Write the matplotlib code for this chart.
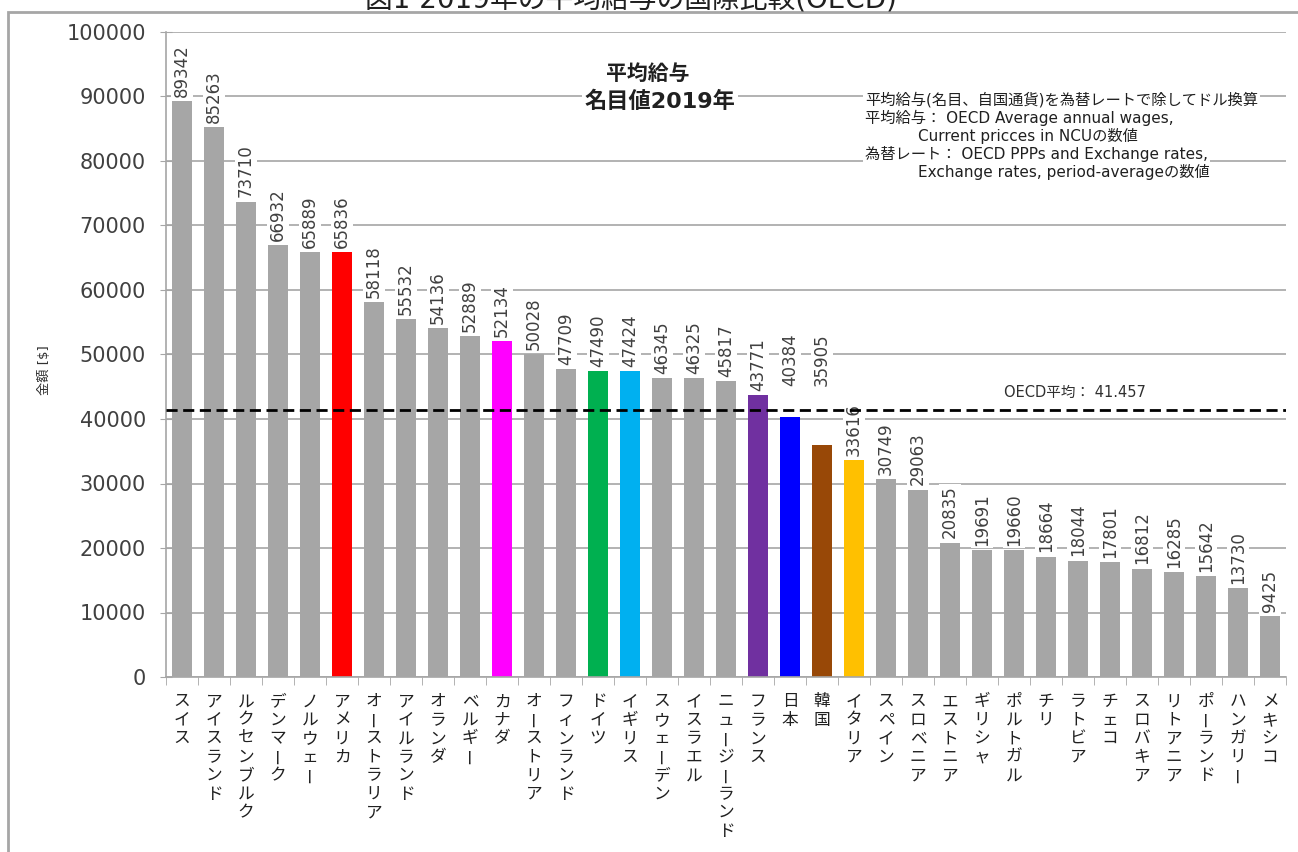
import numpy as np
import matplotlib.pyplot as plt
from matplotlib.patches import Rectangle

# OECD 平均給与 2019年 (名目値, ドル換算)
countries = ['スイス', 'アイスランド', 'ルクセンブルク', 'デンマーク', 'ノルウェー', 'アメリカ',
             'オーストラリア', 'アイルランド', 'オランダ', 'ベルギー', 'カナダ', 'オーストリア',
             'フィンランド', 'ドイツ', 'イギリス', 'スウェーデン', 'イスラエル', 'ニュージーランド',
             'フランス', '日本', '韓国', 'イタリア', 'スペイン', 'スロベニア', 'エストニア',
             'ギリシャ', 'ポルトガル', 'チリ', 'ラトビア', 'チェコ', 'スロバキア', 'リトアニア',
             'ポーランド', 'ハンガリー', 'メキシコ']
wages = [89342, 85263, 73710, 66932, 65889, 65836, 58118, 55532, 54136, 52889, 52134, 50028,
         47709, 47490, 47424, 46345, 46325, 45817, 43771, 40384, 35905, 33616, 30749, 29063,
         20835, 19691, 19660, 18664, 18044, 17801, 16812, 16285, 15642, 13730, 9425]
highlight = {'アメリカ': '#FF0000', 'カナダ': '#FF00FF', 'ドイツ': '#00B050', 'イギリス': '#00B0F0',
             'フランス': '#7030A0', '日本': '#0000FF', '韓国': '#984807', 'イタリア': '#FFC000'}
oecd_mean = 41457
yticks = list(range(0, 100001, 10000))

notes = ['平均給与(名目、自国通貨)を為替レートで除してドル換算',
         '平均給与： OECD Average annual wages,',
         'Current pricces in NCUの数値',
         '為替レート： OECD PPPs and Exchange rates,',
         'Exchange rates, period-averageの数値']

plt.rcParams['font.family'] = ['DejaVu Sans', 'Noto Sans CJK JP']
W, H = 1298, 852
fig = plt.figure(figsize=(W / 100, H / 100), dpi=100)
ax = fig.add_axes([166 / W, 1 - 677 / H, (1286 - 166) / W, (677 - 32) / H])

x = np.arange(len(countries))
colors = [highlight.get(c, '#A6A6A6') for c in countries]
ax.bar(x, wages, width=0.65, color=colors, zorder=2)

# 数値ラベル（平均線とぶつかるものは線の上へ）
for i, v in enumerate(wages):
    ly = v
    if oecd_mean - 6000 < v < oecd_mean:
        ly = oecd_mean + 3000
    ax.annotate(str(v), xy=(i, ly), xytext=(0, 3), textcoords='offset points',
                rotation=90, ha='center', va='bottom', fontsize=12, color='#404040',
                bbox=dict(fc='white', ec='none', pad=1.5), zorder=3)

ax.axhline(oecd_mean, color='black', ls=(0, (4, 2)), lw=2, zorder=4)
ax.text(27.9, oecd_mean + 2600, 'OECD平均： 41.457', ha='center', va='center',
        fontsize=10.5, color='#303030')

ax.set_xlim(-0.5, len(countries) - 0.5)
ax.set_ylim(0, 100000)
ax.set_yticks(yticks)
ax.set_yticklabels([str(t) for t in yticks], fontsize=15, color='#404040')
ax.yaxis.grid(True, color='#A6A6A6', lw=1.2)
ax.set_axisbelow(True)
ax.tick_params(axis='y', direction='inout', length=9, color='#A6A6A6', pad=10)
ax.set_xticks([])
ax.set_xticks(np.arange(-0.5, len(countries), 1), minor=True)
ax.tick_params(axis='x', which='minor', direction='out', length=6, color='#A6A6A6')
for s in ['top', 'right']:
    ax.spines[s].set_visible(False)
for s in ['left', 'bottom']:
    ax.spines[s].set_color('#A6A6A6')
    ax.spines[s].set_linewidth(1.2)

# 縦書きの国名
for i, name in enumerate(countries):
    for k, ch in enumerate(name):
        ax.annotate(ch, xy=(i, 0), xycoords=('data', 'axes fraction'),
                    xytext=(0, -11 - k * 13.3), textcoords='offset points',
                    ha='center', va='top', fontsize=12, color='#202020',
                    rotation=90 if ch == 'ー' else 0, annotation_clip=False)

fig.text(45 / W, 1 - 370 / H, '金額 [$]', rotation=90, ha='center', va='center',
         fontsize=9.5, color='#303030')

fig.text(648 / W, 1 - 74 / H, '平均給与', ha='center', va='center', fontsize=15,
         fontweight='bold', color='#202020')
fig.text(660 / W, 1 - 101 / H, '名目値2019年', ha='center', va='center', fontsize=16,
         fontweight='bold', color='#202020', bbox=dict(fc='white', ec='none', pad=2))

note_pos = [(865, 100), (865, 118), (918, 136), (865, 154), (918, 172)]
for line, (px, py) in zip(notes, note_pos):
    fig.text(px / W, 1 - py / H, line, ha='left', va='center', fontsize=11,
             color='#202020', bbox=dict(fc='white', ec='none', pad=1.5))

fig.text(0.486, 1.0, '図1 2019年の平均給与の国際比較(OECD)', ha='center', va='center',
         fontsize=20, color='#202020')
fig.patches.append(Rectangle((8 / W, -0.05), 1.2, 1.05 - 12 / H, transform=fig.transFigure,
                             fill=False, ec='#A6A6A6', lw=2))

fig.savefig('out.png', dpi=100)
